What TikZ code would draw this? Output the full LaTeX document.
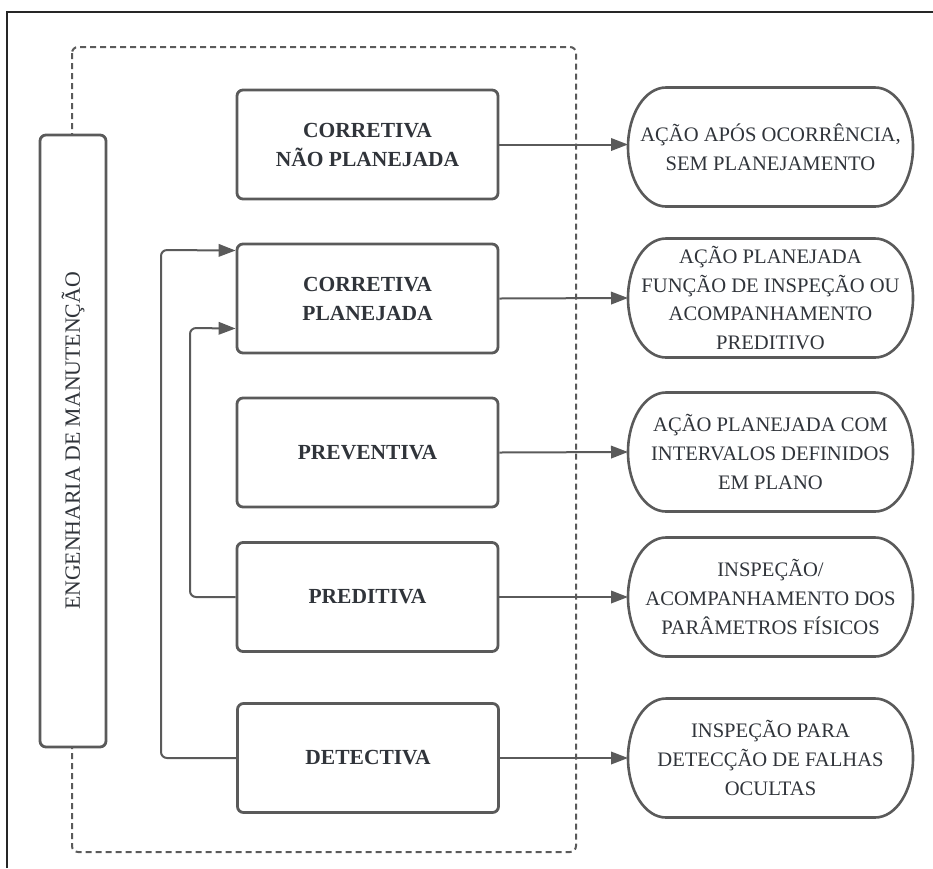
\documentclass[tikz,border=0pt]{standalone}
\usepackage{fontspec}
\setmainfont{Liberation Serif}
\usetikzlibrary{arrows.meta,calc}
\definecolor{ln}{HTML}{5A5A5A}
\definecolor{tx}{HTML}{30343A}
\newcommand\pilloutline[1]{%
  \draw[pillline] ($(#1.north west)+(38pt,0)$) -- ($(#1.north east)+(-38pt,0)$)
    arc[start angle=90,end angle=-90,x radius=38pt,y radius=59.5pt]
    -- ($(#1.south west)+(38pt,0)$)
    arc[start angle=-90,end angle=-270,x radius=38pt,y radius=59.5pt] -- cycle;}
\begin{document}
\begin{tikzpicture}[x=1pt,y=-1pt,
  box/.style={draw=ln, line width=2.8pt, rounded corners=6pt, fill=white,
    minimum width=261pt, minimum height=109pt, inner sep=0pt, align=center,
    font=\fontsize{21.5}{29}\selectfont\bfseries, text=tx},
  pill/.style={minimum width=285pt, minimum height=119pt, outer sep=0pt,
    inner sep=0pt, align=center, font=\fontsize{20.6}{28.8}\selectfont, text=tx},
  pillline/.style={draw=ln, line width=2.6pt},
  bar/.style={draw=ln, line width=2.8pt, rounded corners=6pt, fill=white,
    minimum width=612pt, minimum height=66pt, inner sep=0pt, rotate=90,
    font=\fontsize{21.8}{26}\selectfont, text=tx},
  conn/.style={draw=ln, line width=2pt, -{Triangle[length=17pt,width=12.5pt]}},
  frame/.style={draw=black!85, line width=1.6pt},
  group/.style={draw=ln, line width=2pt, dash pattern=on 6pt off 4pt, rounded corners=6pt}
]
\useasboundingbox (0,0) rectangle (933,868);
% outer frame (cropped)
\coordinate (fa) at (7,868);
\coordinate (fb) at (7,12);
\coordinate (fc) at (933,12);
\draw[frame] (fa) -- (fb) -- (fc);
% dashed group
\coordinate (g1) at (72,47);
\coordinate (g2) at (576,852);
\draw[group] (g1) rectangle (g2);
% left bar
\node[bar] (eng) at (73,441) {ENGENHARIA DE MANUTENÇÃO};
% middle boxes
\node[box] (b1) at (367.5,144.5) {CORRETIVA\\NÃO PLANEJADA};
\node[box] (b2) at (367.5,298.5) {CORRETIVA\\PLANEJADA};
\node[box] (b3) at (367.5,452.5) {PREVENTIVA};
\node[box] (b4) at (367.5,597) {PREDITIVA};
\node[box] (b5) at (368,758) {DETECTIVA};
% right pills
\node[pill] (p1) at (770.5,147) {AÇÃO APÓS OCORRÊNCIA,\\SEM PLANEJAMENTO};
\node[pill] (p2) at (770.5,298) {AÇÃO PLANEJADA\\FUNÇÃO DE INSPEÇÃO OU\\ACOMPANHAMENTO\\PREDITIVO};
\node[pill] (p3) at (770.5,452) {AÇÃO PLANEJADA COM\\INTERVALOS DEFINIDOS\\EM PLANO};
\node[pill] (p4) at (770.5,597) {INSPEÇÃO/\\ACOMPANHAMENTO DOS\\PARÂMETROS FÍSICOS};
\node[pill] (p5) at (770.5,758) {INSPEÇÃO PARA\\DETECÇÃO DE FALHAS\\OCULTAS};
\pilloutline{p1}
\pilloutline{p2}
\pilloutline{p3}
\pilloutline{p4}
\pilloutline{p5}
% arrows to the right
\draw[conn] (b1.east) -- (p1.west |- b1.east);
\draw[conn] (b2.east) -- (p2.west);
\draw[conn] (b3.east) -- (p3.west);
\draw[conn] (b4.east) -- (p4.west);
\draw[conn] (b5.east) -- (p5.west);
% feedback connectors
\coordinate (t1) at ($(b2.west)+(0,-48)$);
\coordinate (t2) at ($(b2.west)+(0,30)$);
\draw[conn, rounded corners=6pt] (b5.west) -- (161,758) -- (161,250) -- (t1);
\draw[conn, rounded corners=6pt] (b4.west) -- (190,597) -- (190,328) -- (t2);
\end{tikzpicture}
\end{document}
